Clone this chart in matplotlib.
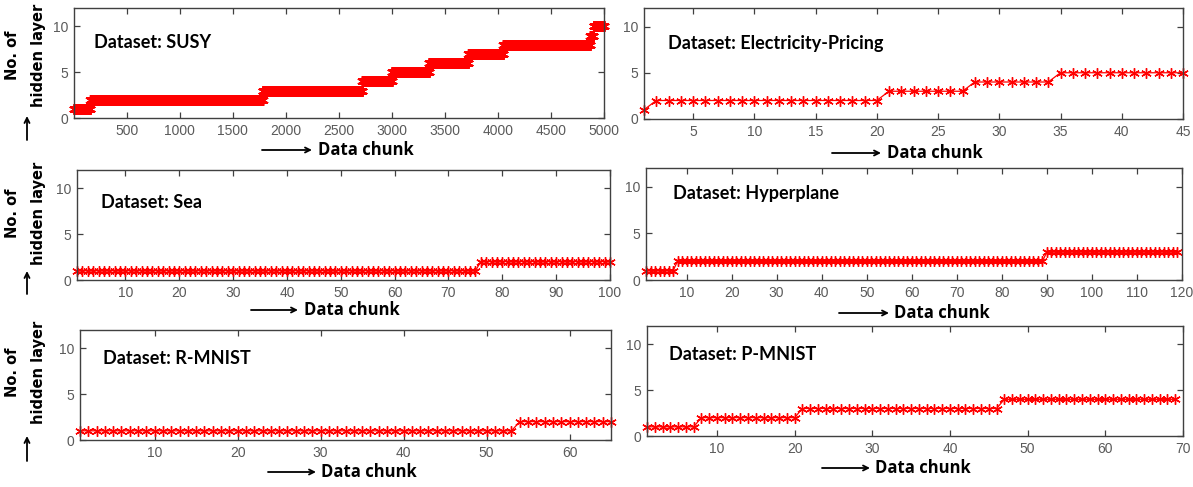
import numpy as np
import matplotlib
matplotlib.use("Agg")
from matplotlib import pyplot as plt
from matplotlib.patches import FancyArrowPatch

# ------------------------------------------------------------------
# Data: step levels (no. of hidden layers) and how many chunks each lasts
# ------------------------------------------------------------------
susy_levels = [1, 2, 3, 4, 5, 6, 7, 8, 9, 10]
susy_runs = [155, 1625, 940, 280, 350, 370, 330, 820, 30, 100]

elec_levels = [1, 2, 3, 4, 5]
elec_runs = [1, 19, 7, 7, 11]

sea_levels = [1, 2]
sea_runs = [75, 25]

hyper_levels = [1, 2, 3]
hyper_runs = [7, 82, 30]

rmnist_levels = [1, 2]
rmnist_runs = [53, 12]

pmnist_levels = [1, 2, 3, 4]
pmnist_runs = [7, 13, 26, 23]

titles = ["Dataset: SUSY", "Dataset: Electricity-Pricing", "Dataset: Sea",
          "Dataset: Hyperplane", "Dataset: R-MNIST", "Dataset: P-MNIST"]
x_max = [5000, 45, 100, 120, 65, 70]
x_ticks = [np.arange(500, 5001, 500), np.arange(5, 46, 5), np.arange(10, 101, 10),
           np.arange(10, 121, 10), np.arange(10, 61, 10), np.arange(10, 71, 10)]
series = [(susy_levels, susy_runs), (elec_levels, elec_runs), (sea_levels, sea_runs),
          (hyper_levels, hyper_runs), (rmnist_levels, rmnist_runs), (pmnist_levels, pmnist_runs)]

# ------------------------------------------------------------------
# Layout, all in pixels from the top-left corner of the picture
# ------------------------------------------------------------------
W, H = 1193, 487
boxes = [(74, 8, 604, 118), (644, 8, 1183, 119),
         (77, 170, 610, 280), (646, 168, 1182, 280),
         (80, 330, 611, 440), (647, 326, 1183, 436)]
title_xy = [(94, 43), (668, 43), (101, 203), (673, 193), (103, 358), (669, 354)]
# arrow start, arrow end, text start, y
xlab = [(262, 312, 318, 150), (832, 881, 887, 153), (251, 298, 304, 310),
        (839, 889, 894, 313), (268, 316, 321, 472), (822, 870, 875, 468)]
# y label centre and up-arrow (bottom, top) for the left column
ylab_y = [55, 213, 372]
yarrow = [(140, 116), (294, 271), (461, 436)]


def fx(px):
    return px / W


def fy(py):
    return 1 - py / H


fig = plt.figure(figsize=(W / 100, H / 100), dpi=100)
arrow_props = dict(arrowstyle="->", lw=1.3, color="black", mutation_scale=9,
                   shrinkA=0, shrinkB=0)

for i, (levels, runs) in enumerate(series):
    l, t, r, b = boxes[i]
    ax = fig.add_axes([fx(l), fy(b), (r - l) / W, (b - t) / H])

    y = np.repeat(levels, runs)
    x = np.arange(1, len(y) + 1)
    ax.plot(x, y, color="red", marker=(6, 2, 0), markersize=7.5, markeredgewidth=1.0,
            linewidth=0.9, clip_on=False)

    ax.set_xlim(1, x_max[i])
    ax.set_ylim(0, 12)
    ax.set_xticks(x_ticks[i])
    ax.set_yticks([0, 5, 10])
    ax.tick_params(direction="in", top=True, right=True, length=4.5, width=0.9,
                   colors="#404040", labelcolor="#5a5a5a", labelsize=10, pad=4)
    for s in ax.spines.values():
        s.set_color("#404040")
        s.set_linewidth(1.0)
    for lab in ax.get_xticklabels() + ax.get_yticklabels():
        lab.set_family("Liberation Sans")

    # dataset name
    tx, ty = title_xy[i]
    fig.text(fx(tx), fy(ty), titles[i], fontsize=13, fontweight="bold", family="Lato",
             va="center", ha="left")

    # x label with arrow
    a0, a1, t0, yy = xlab[i]
    fig.add_artist(FancyArrowPatch((fx(a0), fy(yy)), (fx(a1), fy(yy)),
                                   transform=fig.transFigure, **arrow_props))
    fig.text(fx(t0), fy(yy), "Data chunk", fontsize=12, fontweight="bold",
             family="Open Sans", va="center", ha="left")

    # y label with arrow (left column only)
    if i % 2 == 0:
        row = i // 2
        fig.text(fx(13), fy(ylab_y[row]), "No. of", rotation=90, fontsize=10.5,
                 fontweight="bold", family="DejaVu Sans", va="center", ha="center")
        fig.text(fx(38), fy(ylab_y[row]), "hidden layer", rotation=90, fontsize=10.5,
                 fontweight="bold", family="DejaVu Sans", va="center", ha="center")
        yb, yt = yarrow[row]
        fig.add_artist(FancyArrowPatch((fx(27), fy(yb)), (fx(27), fy(yt)),
                                       transform=fig.transFigure, **arrow_props))

fig.savefig("out.png", dpi=100)
